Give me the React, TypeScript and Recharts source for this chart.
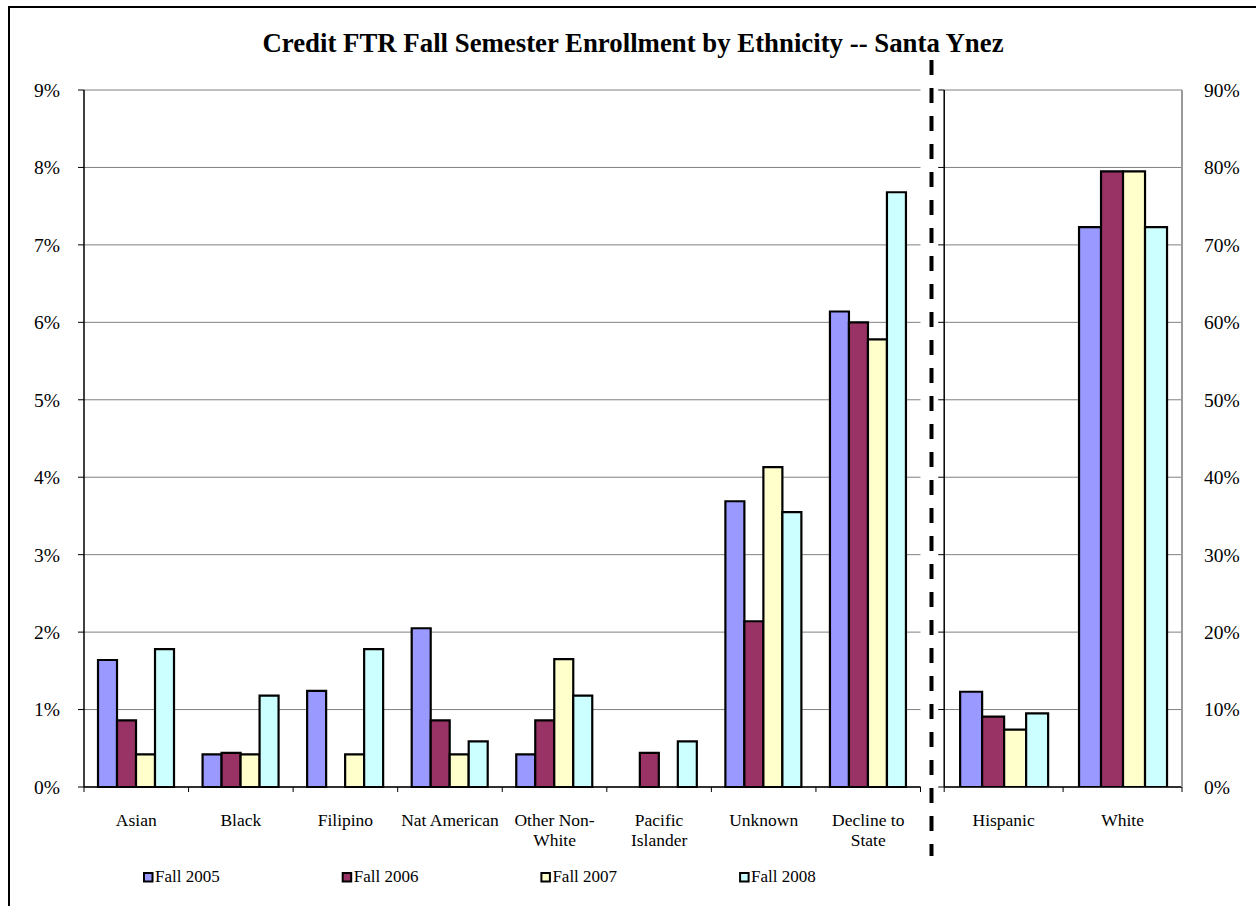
import React from "react";
import { BarChart, Bar, XAxis, YAxis, CartesianGrid } from "recharts";

// values in percent
const leftCategories = [
  "Asian",
  "Black",
  "Filipino",
  "Nat American",
  "Other Non-White",
  "Pacific Islander",
  "Unknown",
  "Decline to State",
];
const fall2005Left = [1.64, 0.42, 1.24, 2.05, 0.42, 0, 3.69, 6.14];
const fall2006Left = [0.86, 0.44, 0, 0.86, 0.86, 0.44, 2.14, 6.0];
const fall2007Left = [0.42, 0.42, 0.42, 0.42, 1.65, 0, 4.13, 5.78];
const fall2008Left = [1.78, 1.18, 1.78, 0.59, 1.18, 0.59, 3.55, 7.68];

const rightCategories = ["Hispanic", "White"];
const fall2005Right = [12.3, 72.3];
const fall2006Right = [9.1, 79.5];
const fall2007Right = [7.4, 79.5];
const fall2008Right = [9.5, 72.3];

const leftTicks = [0, 1, 2, 3, 4, 5, 6, 7, 8, 9];
const rightTicks = [0, 10, 20, 30, 40, 50, 60, 70, 80, 90];

const seriesKeys = ["f2005", "f2006", "f2007", "f2008"];
const seriesNames = ["Fall 2005", "Fall 2006", "Fall 2007", "Fall 2008"];
const seriesColors = ["#9999FF", "#993366", "#FFFFCC", "#CCFFFF"];

const TITLE = "Credit FTR Fall Semester Enrollment by Ethnicity -- Santa Ynez";

const leftData = leftCategories.map((name, i) => ({
  name,
  f2005: fall2005Left[i],
  f2006: fall2006Left[i],
  f2007: fall2007Left[i],
  f2008: fall2008Left[i],
}));

const rightData = rightCategories.map((name, i) => ({
  name,
  f2005: fall2005Right[i],
  f2006: fall2006Right[i],
  f2007: fall2007Right[i],
  f2008: fall2008Right[i],
}));

const FONT = "'Liberation Serif', 'Times New Roman', Times, serif";
const CAT_SIZE = 17.5;
const TICK_SIZE = 19.5;

// layout
const H = 906;
const TOP = 90;
const BOTTOM = 49;
const XAXIS_H = 70;
const LEFT_W = 930;
const LEFT_AXIS_W = 84;
const LEFT_MR = 9.5;
const RIGHT_X = 930;
const RIGHT_W = 326;
const RIGHT_AXIS_L = 14.2;
const RIGHT_AXIS_R = 74;
const LEFT_BAND = (LEFT_W - LEFT_AXIS_W - LEFT_MR) / leftCategories.length;
const RIGHT_BAND = (RIGHT_W - RIGHT_AXIS_L - RIGHT_AXIS_R) / rightCategories.length;

const measureCtx =
  typeof document !== "undefined" ? document.createElement("canvas").getContext("2d") : null;

// greedy wrap, breaking at spaces and after hyphens (like Excel)
function wrapLabel(label: string, maxWidth: number): string[] {
  if (!measureCtx) return [label];
  measureCtx.font = `${CAT_SIZE}px ${FONT}`;
  const tokens = label.match(/[^ -]+-?/g) || [label];
  const lines: string[] = [];
  let cur = "";
  for (const t of tokens) {
    const joined = cur === "" ? t : cur.endsWith("-") ? cur + t : cur + " " + t;
    if (cur !== "" && measureCtx.measureText(joined).width > maxWidth) {
      lines.push(cur);
      cur = t;
    } else {
      cur = joined;
    }
  }
  if (cur) lines.push(cur);
  return lines;
}

function CategoryTick(props: any) {
  const { x, y, payload, index, band, count } = props;
  const lines = wrapLabel(String(payload?.value ?? ""), band - 2);
  return (
    <g>
      <line x1={x - band / 2} x2={x - band / 2} y1={y} y2={y + 5} stroke="#000" strokeWidth={1} />
      {index === count - 1 && (
        <line x1={x + band / 2} x2={x + band / 2} y1={y} y2={y + 5} stroke="#000" strokeWidth={1} />
      )}
      <text x={x} y={y + 38.7} textAnchor="middle" fontSize={CAT_SIZE} fontFamily={FONT} fill="#000">
        {lines.map((l, i) => (
          <tspan key={i} x={x} dy={i === 0 ? 0 : 20}>
            {l}
          </tspan>
        ))}
      </text>
    </g>
  );
}

const tickStyle = { fontSize: TICK_SIZE, fontFamily: FONT, fill: "#000" };

function renderBars(yAxisId?: string) {
  return seriesKeys.map((k, i) => (
    <Bar
      key={k}
      dataKey={k}
      name={seriesNames[i]}
      yAxisId={yAxisId}
      fill={seriesColors[i]}
      stroke="#000"
      strokeWidth={2.2}
      isAnimationActive={false}
    />
  ));
}

export default function App() {
  return (
    <div
      style={{
        position: "absolute",
        left: 0,
        top: 0,
        width: 1256,
        height: H,
        overflow: "hidden",
        background: "#fff",
        fontFamily: FONT,
      }}
    >
      {/* outer frame */}
      <div
        style={{
          position: "absolute",
          left: 8,
          top: 6,
          width: 1300,
          height: 950,
          borderLeft: "2px solid #000",
          borderTop: "2px solid #000",
        }}
      />

      <div style={{ position: "absolute", left: 0, top: 0 }}>
        <BarChart
          width={LEFT_W}
          height={H}
          data={leftData}
          margin={{ top: TOP, right: LEFT_MR, bottom: BOTTOM, left: 0 }}
          barCategoryGap="13.4%"
          barGap={0}
        >
          <CartesianGrid vertical={false} stroke="#808080" strokeWidth={1} />
          <XAxis
            dataKey="name"
            height={XAXIS_H}
            interval={0}
            tickSize={0}
            tickMargin={0}
            tickLine={false}
            axisLine={{ stroke: "#000", strokeWidth: 1.5 }}
            tick={<CategoryTick band={LEFT_BAND} count={leftCategories.length} />}
          />
          <YAxis
            width={LEFT_AXIS_W}
            domain={[0, 9]}
            ticks={leftTicks}
            tickFormatter={(v: number) => `${v}%`}
            tickSize={6}
            tickMargin={18}
            tick={tickStyle}
            tickLine={{ stroke: "#000" }}
            axisLine={{ stroke: "#000", strokeWidth: 1.5 }}
          />
          {renderBars()}
        </BarChart>
      </div>

      <div style={{ position: "absolute", left: RIGHT_X, top: 0 }}>
        <BarChart
          width={RIGHT_W}
          height={H}
          data={rightData}
          margin={{ top: TOP, right: 0, bottom: BOTTOM, left: 0 }}
          barCategoryGap="13.4%"
          barGap={0}
        >
          <CartesianGrid vertical={false} yAxisId="l" stroke="#808080" strokeWidth={1} />
          <XAxis
            dataKey="name"
            height={XAXIS_H}
            interval={0}
            tickSize={0}
            tickMargin={0}
            tickLine={false}
            axisLine={{ stroke: "#000", strokeWidth: 1.5 }}
            tick={<CategoryTick band={RIGHT_BAND} count={rightCategories.length} />}
          />
          <YAxis
            yAxisId="l"
            width={RIGHT_AXIS_L}
            domain={[0, 90]}
            allowDataOverflow
            ticks={rightTicks}
            tickSize={6}
            tick={() => <g />}
            tickLine={{ stroke: "#000" }}
            axisLine={{ stroke: "#000", strokeWidth: 1.5 }}
          />
          <YAxis
            yAxisId="r"
            orientation="right"
            type="number"
            width={RIGHT_AXIS_R}
            domain={[0, 90]}
            allowDataOverflow
            ticks={rightTicks}
            tickFormatter={(v: number) => `${v}%`}
            tickSize={0}
            tickMargin={22}
            tick={{ ...tickStyle, textAnchor: "start" }}
            tickLine={false}
            axisLine={{ stroke: "#999", strokeWidth: 2 }}
          />
          {renderBars("l")}
        </BarChart>
      </div>

      {/* title, divider and legend */}
      <svg
        width={1256}
        height={H}
        style={{ position: "absolute", left: 0, top: 0, pointerEvents: "none" }}
      >
        <text x={633} y={52} textAnchor="middle" fontFamily={FONT} fontWeight="bold" fontSize={26.8} fill="#000">
          {TITLE}
        </text>
        <line x1={931.5} x2={931.5} y1={60} y2={856} stroke="#000" strokeWidth={4} strokeDasharray="15 13" />
        {seriesNames.map((n, i) => {
          const lx = 143 + i * 198.7;
          return (
            <g key={n}>
              <rect x={lx + 1} y={873} width={8.5} height={8.5} fill={seriesColors[i]} stroke="#000" strokeWidth={2} />
              <text x={lx + 12} y={882.3} fontFamily={FONT} fontSize={17} fill="#000">
                {n}
              </text>
            </g>
          );
        })}
      </svg>
    </div>
  );
}
